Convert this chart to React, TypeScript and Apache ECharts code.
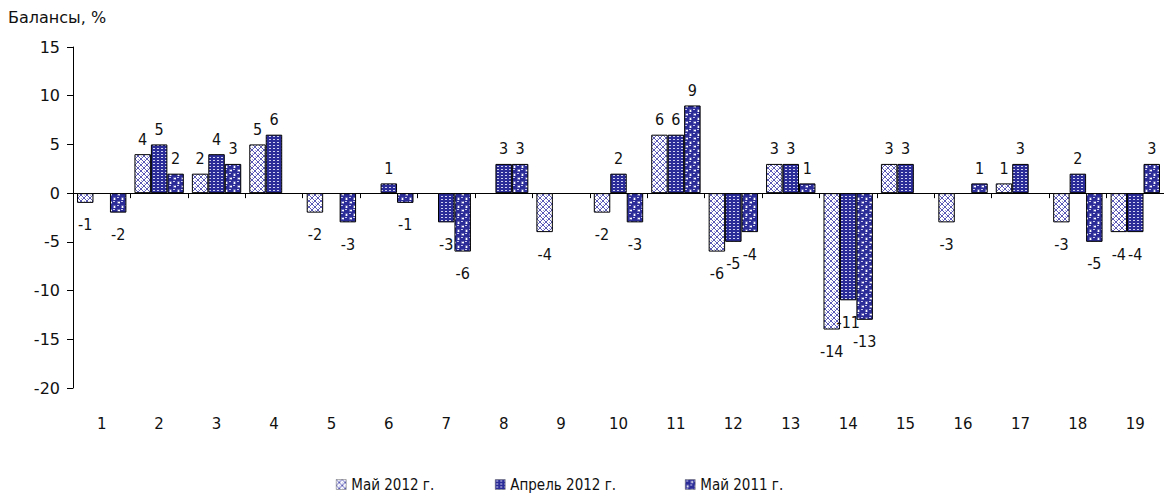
import React, { useEffect, useRef } from "react";
import * as echarts from "echarts";

const categories = ["1","2","3","4","5","6","7","8","9","10","11","12","13","14","15","16","17","18","19"];
const seriesNames = ["Май 2012 г.", "Апрель 2012 г.", "Май 2011 г."];
const may2012: (number | null)[] = [-1, 4, 2, 5, -2, null, null, null, -4, -2, 6, -6, 3, -14, 3, -3, 1, -3, -4];
const apr2012: (number | null)[] = [null, 5, 4, 6, null, 1, -3, 3, null, 2, 6, -5, 3, -11, 3, null, 3, 2, -4];
const may2011: (number | null)[] = [-2, 2, 3, null, -3, -1, -6, 3, null, -3, 9, -4, 1, -13, null, 1, null, -5, 3];
const yTicks = [-20, -15, -10, -5, 0, 5, 10, 15];

const BLUE = "#2c2c98";

function makeTile(w: number, h: number, draw: (c: CanvasRenderingContext2D) => void) {
  const cv = document.createElement("canvas");
  cv.width = w;
  cv.height = h;
  const c = cv.getContext("2d")!;
  draw(c);
  return cv;
}

function patterns() {
  const p1 = makeTile(6, 6, (c) => {
    c.fillStyle = "#ffffff";
    c.fillRect(0, 0, 6, 6);
    c.fillStyle = "#5a5ab6";
    for (let i = 0; i < 6; i++) {
      c.fillRect(i, i, 1, 1);
      c.fillRect(5 - i, i, 1, 1);
    }
    c.fillStyle = "#a4a4dc";
    c.fillRect(3, 0, 1, 1);
    c.fillRect(0, 3, 1, 1);
  });
  const p2 = makeTile(4, 3, (c) => {
    c.fillStyle = BLUE;
    c.fillRect(0, 0, 4, 3);
    c.fillStyle = "#d0d0f0";
    c.fillRect(1, 1, 2, 1);
  });
  const p3 = makeTile(8, 8, (c) => {
    c.fillStyle = "#ffffff";
    c.fillRect(0, 0, 8, 8);
    c.fillStyle = BLUE;
    c.fillRect(0, 0, 5, 4);
    c.fillRect(4, 4, 4, 4);
    c.beginPath();
    c.arc(2.5, 2.5, 3.2, 0, Math.PI * 2);
    c.fill();
    c.beginPath();
    c.arc(6.5, 6.5, 3.2, 0, Math.PI * 2);
    c.arc(6.5, -1.5, 3.2, 0, Math.PI * 2);
    c.fill();
    c.beginPath();
    c.arc(-1.5, 6.5, 3.2, 0, Math.PI * 2);
    c.fill();
    c.fillStyle = "#c8c8ee";
    c.fillRect(1, 1, 2, 1);
    c.fillRect(5, 5, 2, 1);
  });
  return [p1, p2, p3].map((img) => ({
    image: img,
    repeat: "repeat",
    imageWidth: img.width,
    imageHeight: img.height,
  }));
}

const labelFont = "'Liberation Sans Narrow', 'DejaVu Sans Condensed', 'Liberation Sans', sans-serif";
const textFont = "'DejaVu Sans Condensed', 'DejaVu Sans', sans-serif";

function toData(arr: (number | null)[]) {
  return arr.map((v) =>
    v === null
      ? null
      : {
          value: v,
          label: {
            position: v < 0 ? "bottom" : "top",
            distance: v < 0 ? 14 : 7,
          },
        }
  );
}

export default function App() {
  const ref = useRef<HTMLDivElement>(null);
  useEffect(() => {
    if (!ref.current) return;
    const chart = echarts.init(ref.current, undefined, { renderer: "svg" });
    const pats = patterns();
    const all = [may2012, apr2012, may2011];
    const legendLefts = [336, 495, 685];
    chart.setOption({
      animation: false,
      backgroundColor: "#ffffff",
      title: {
        text: "Балансы, %",
        left: 8,
        top: 9,
        padding: 0,
        textStyle: { fontFamily: "'DejaVu Sans', sans-serif", fontSize: 16, fontWeight: "normal", color: "#111" },
      },
      legend: seriesNames.map((n, i) => ({
        data: [n],
        left: legendLefts[i],
        top: 477,
        padding: 0,
        icon: "rect",
        itemWidth: 10,
        itemHeight: 10,
        itemGap: 10,
        textStyle: { fontFamily: textFont, fontSize: 15, color: "#111" },
        itemStyle: { borderColor: "#666", borderWidth: 0.5 },
      })),
      grid: { left: 73, top: 47, bottom: 109, right: -6, containLabel: false },
      xAxis: [
        {
          type: "category",
          data: categories,
          position: "bottom",
          axisLine: { show: false, onZero: false },
          axisTick: { show: false },
          axisLabel: { margin: 28, fontFamily: "'DejaVu Sans', sans-serif", fontSize: 15, color: "#111" },
        },
        {
          type: "category",
          data: categories,
          position: "bottom",
          axisLine: { show: true, onZero: true, lineStyle: { color: "#000", width: 1 } },
          axisTick: { show: true, length: 5, inside: false, lineStyle: { color: "#000" } },
          axisLabel: { show: false },
        },
      ],
      yAxis: {
        type: "value",
        min: -20,
        max: 15,
        interval: 5,
        splitLine: { show: false },
        axisLine: { show: true, lineStyle: { color: "#000" } },
        axisTick: { show: true, length: 6, lineStyle: { color: "#000" } },
        axisLabel: {
          margin: 13,
          fontFamily: "'DejaVu Sans', sans-serif",
          fontSize: 16,
          color: "#111",
          formatter: (v: number) => (yTicks.includes(v) ? String(v) : ""),
        },
      },
      series: all.map((arr, i) => ({
        name: seriesNames[i],
        type: "bar",
        xAxisIndex: 0,
        data: toData(arr),
        barGap: "0%",
        barCategoryGap: "14%",
        itemStyle: { color: pats[i], borderColor: "#000", borderWidth: 1 },
        label: {
          show: true,
          fontFamily: labelFont,
          fontSize: 16,
          color: "#111",
        },
      })),
    });
    return () => chart.dispose();
  }, []);
  return (
    <div
      ref={ref}
      style={{ position: "fixed", left: 0, top: 0, width: 1164, height: 497 }}
    />
  );
}
